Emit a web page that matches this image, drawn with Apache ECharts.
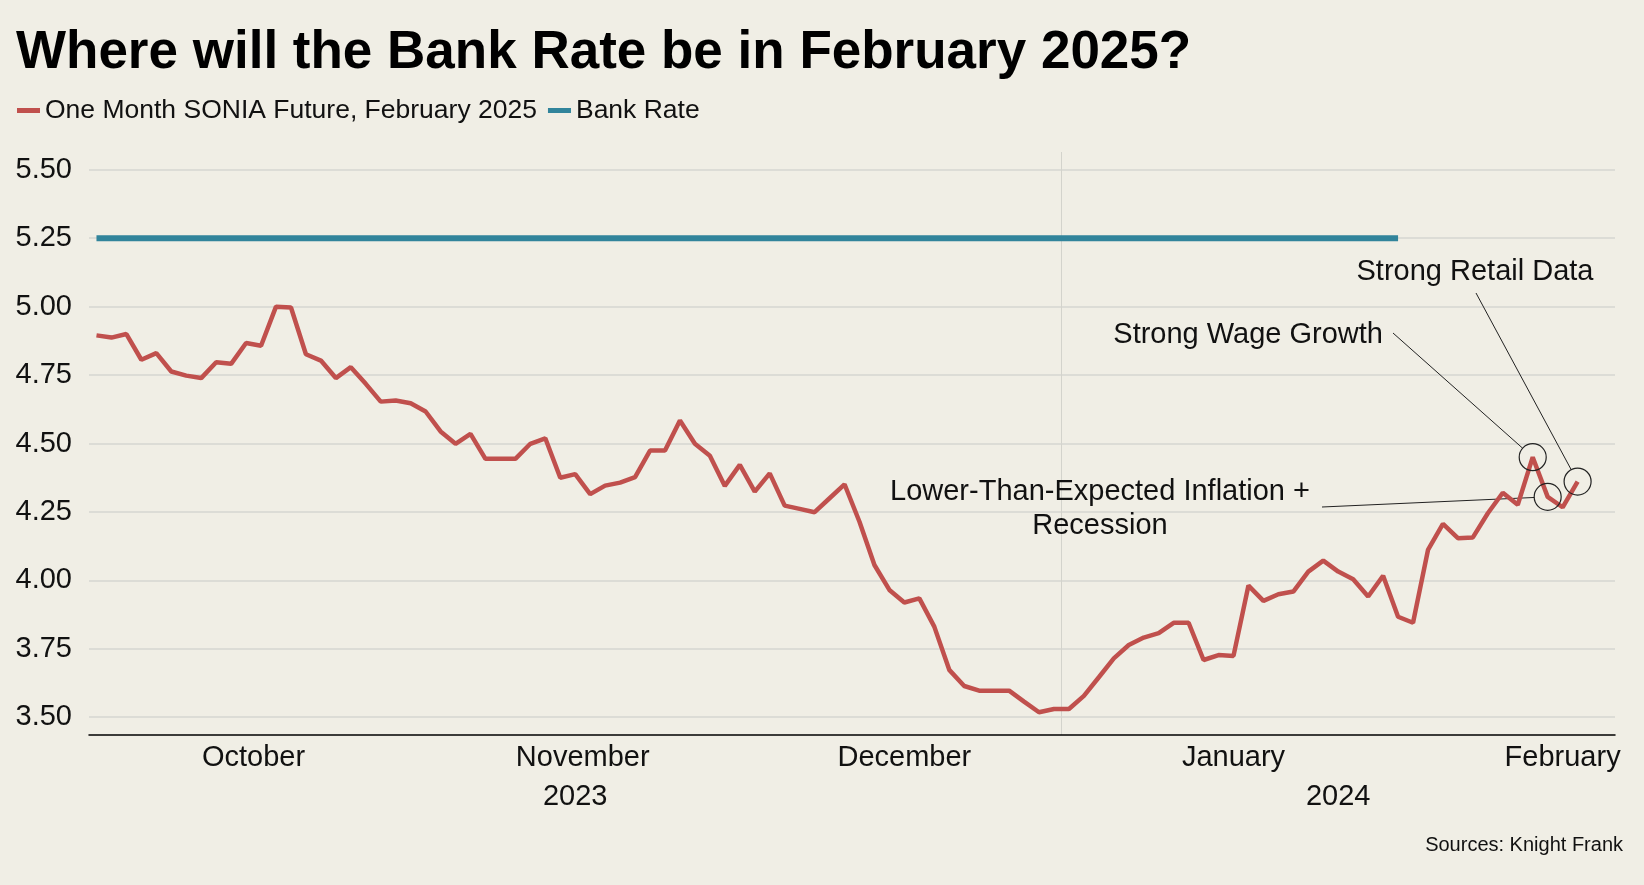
<!DOCTYPE html>
<html>
<head>
<meta charset="utf-8">
<script src="https://cdn.jsdelivr.net/npm/echarts@6/dist/echarts.min.js"></script>
<style>
html,body{margin:0;padding:0;background:#f0eee5;}
#chart{width:1644px;height:885px;}
</style>
</head>
<body>
<div id="chart"></div>
<script>
// ---- data ----
const firstDay = '2023-10-02';
const lastDay = '2024-02-20';
const monthNames = ['October', 'November', 'December', 'January', 'February'];
const monthKeys = ['2023-10', '2023-11', '2023-12', '2024-01', '2024-02'];
const yearLabels = ['2023', '2024'];
const yTicks = [3.5, 3.75, 4.0, 4.25, 4.5, 4.75, 5.0, 5.25, 5.5];

// One Month SONIA Future, February 2025 (business days from 2 Oct 2023)
const sonia = [
  4.895, 4.887, 4.900, 4.806, 4.830, 4.763, 4.748, 4.739, 4.797, 4.791, 4.867,
  4.857, 5.000, 4.997, 4.826, 4.803, 4.739, 4.779, 4.718, 4.653, 4.657, 4.647,
  4.617, 4.544, 4.499, 4.535, 4.444, 4.444, 4.444, 4.499, 4.519, 4.375, 4.388,
  4.315, 4.346, 4.357, 4.377, 4.474, 4.474, 4.584, 4.499, 4.455, 4.345, 4.422,
  4.324, 4.391, 4.273, 4.261, 4.249, 4.300, 4.351, 4.214, 4.056, 3.965, 3.919,
  3.934, 3.831, 3.673, 3.614, 3.597, 3.597, 3.597, 3.557, 3.518, 3.530, 3.530,
  3.578, 3.646, 3.715, 3.764, 3.791, 3.807, 3.845, 3.845, 3.709, 3.727, 3.724,
  3.981, 3.925, 3.949, 3.959, 4.032, 4.072, 4.032, 4.004, 3.941, 4.017, 3.867,
  3.845, 4.111, 4.206, 4.154, 4.157, 4.245, 4.320, 4.276, 4.450, 4.305, 4.267,
  4.361
];
// Bank Rate (business days from 2 Oct 2023 to 31 Jan 2024)
const bankRate = [
  5.25, 5.25, 5.25, 5.25, 5.25, 5.25, 5.25, 5.25, 5.25, 5.25, 5.25,
  5.25, 5.25, 5.25, 5.25, 5.25, 5.25, 5.25, 5.25, 5.25, 5.25, 5.25,
  5.25, 5.25, 5.25, 5.25, 5.25, 5.25, 5.25, 5.25, 5.25, 5.25, 5.25,
  5.25, 5.25, 5.25, 5.25, 5.25, 5.25, 5.25, 5.25, 5.25, 5.25, 5.25,
  5.25, 5.25, 5.25, 5.25, 5.25, 5.25, 5.25, 5.25, 5.25, 5.25, 5.25,
  5.25, 5.25, 5.25, 5.25, 5.25, 5.25, 5.25, 5.25, 5.25, 5.25, 5.25,
  5.25, 5.25, 5.25, 5.25, 5.25, 5.25, 5.25, 5.25, 5.25, 5.25, 5.25,
  5.25, 5.25, 5.25, 5.25, 5.25, 5.25, 5.25, 5.25, 5.25, 5.25, 5.25
];
const annotations = [
  { date: '2024-02-13', text: 'Strong Wage Growth', align: 'right', tx: 1383, ty: 335, lx: 1393, ly: 333 },
  { date: '2024-02-14', text: 'Lower-Than-Expected Inflation +\nRecession', align: 'center', tx: 1100, ty: 509, lx: 1322, ly: 507 },
  { date: '2024-02-16', text: 'Strong Retail Data', align: 'center', tx: 1475, ty: 272, lx: 1476, ly: 293 }
];

// ---- helpers ----
function weekdays(from, to) {
  const out = [];
  const d = new Date(from + 'T00:00:00Z');
  const e = new Date(to + 'T00:00:00Z');
  while (d <= e) {
    const w = d.getUTCDay();
    if (w !== 0 && w !== 6) out.push(d.toISOString().slice(0, 10));
    d.setUTCDate(d.getUTCDate() + 1);
  }
  return out;
}
const dates = weekdays(firstDay, lastDay);
const N = dates.length;

// month label positions: centre of each full month (business days)
const monthPos = monthKeys.map(k => {
  const [y, m] = k.split('-').map(Number);
  const endDay = new Date(Date.UTC(y, m, 0)).getUTCDate();
  const all = weekdays(k + '-01', k + '-' + String(endDay).padStart(2, '0'));
  const start = dates.findIndex(d => d.startsWith(k));
  return start + all.length / 2;
});
const yearPos = yearLabels.map(y => {
  const idx = dates.map((d, i) => d.startsWith(y) ? i : -1).filter(i => i >= 0);
  return (idx[0] + idx[idx.length - 1] + 1) / 2;
});
// boundary between the years (start of first 2024 business day band)
const yearBoundary = [dates.findIndex(d => d.startsWith(yearLabels[1]))];

const FONT = '"Liberation Sans", Arial, sans-serif';
const TXT = '#111111';

const chart = echarts.init(document.getElementById('chart'));
const option = {
  animation: false,
  backgroundColor: '#f0eee5',
  textStyle: { fontFamily: FONT },
  title: [
    { text: 'Where will the Bank Rate be in February 2025?', left: 16, top: 27, padding: 0,
      textStyle: { fontSize: 53, fontWeight: 'bold', color: '#000', fontFamily: FONT } },
    { text: 'Sources: Knight Frank', right: 21, top: 835, padding: 0,
      textStyle: { fontSize: 20, fontWeight: 'normal', color: TXT, fontFamily: FONT } }
  ],
  legend: {
    left: 17, top: 97, padding: 0, itemGap: 11, itemWidth: 23, itemHeight: 5, icon: 'rect',
    textStyle: { fontSize: 26.5, color: TXT, fontFamily: FONT },
    data: ['One Month SONIA Future, February 2025', 'Bank Rate']
  },
  grid: { left: 89, right: 29, top: 152, bottom: 150 },
  xAxis: [
    {
      type: 'category', data: dates, boundaryGap: true,
      axisLine: { show: true, lineStyle: { color: '#000', width: 1.5 } },
      axisTick: { show: false }, axisLabel: { show: false }, splitLine: { show: false }
    },
    {
      type: 'value', min: 0, max: N, position: 'bottom',
      axisLine: { show: false }, axisTick: { show: false }, splitLine: { show: false },
      axisLabel: { customValues: monthPos, margin: 8, fontSize: 29, color: TXT, fontFamily: FONT,
        formatter: v => monthNames[monthPos.indexOf(v)] }
    },
    {
      type: 'value', min: 0, max: N, position: 'bottom',
      axisLine: { show: false }, axisTick: { show: false }, splitLine: { show: false },
      axisLabel: { customValues: yearPos, margin: 47, fontSize: 29, color: TXT, fontFamily: FONT,
        formatter: v => yearLabels[yearPos.indexOf(v)] }
    },
    {
      type: 'value', min: 0, max: N, position: 'bottom',
      axisLine: { show: false }, axisLabel: { show: false },
      axisTick: { show: false, customValues: yearBoundary },
      splitLine: { show: true, lineStyle: { color: '#d3d3cc', width: 1 } }
    }
  ],
  yAxis: {
    type: 'value', min: 3.435, max: 5.565,
    axisLine: { show: false },
    axisTick: { show: false, customValues: yTicks },
    axisLabel: { customValues: yTicks, margin: 17, fontSize: 29, color: TXT, fontFamily: FONT,
      formatter: v => v.toFixed(2) },
    splitLine: { show: true, lineStyle: { color: '#d6d6d0', width: 1.5 } }
  },
  series: [
    {
      name: 'One Month SONIA Future, February 2025', type: 'line', data: sonia,
      symbol: 'none', z: 3,
      itemStyle: { color: '#c0504d' },
      lineStyle: { color: '#c0504d', width: 4.5 },
      markPoint: {
        symbol: 'circle', symbolSize: 27, silent: true,
        itemStyle: { color: 'rgba(0,0,0,0)', borderColor: '#222', borderWidth: 1.2 },
        label: { show: false },
        data: annotations.map(a => {
          const i = dates.indexOf(a.date);
          return { coord: [dates[i], sonia[i]] };
        })
      }
    },
    {
      name: 'Bank Rate', type: 'line', data: bankRate,
      symbol: 'none', z: 2,
      itemStyle: { color: '#31849b' },
      lineStyle: { color: '#31849b', width: 6 }
    }
  ]
};
chart.setOption(option);

// annotation texts and leader lines ending at circle edges
const R = 13.5;
const graphics = [];
annotations.forEach(a => {
  const i = dates.indexOf(a.date);
  const p = chart.convertToPixel({ xAxisIndex: 0, yAxisIndex: 0 }, [i, sonia[i]]);
  const dx = a.lx - p[0], dy = a.ly - p[1];
  const len = Math.sqrt(dx * dx + dy * dy);
  graphics.push({
    type: 'line', silent: true,
    shape: { x1: a.lx, y1: a.ly, x2: p[0] + dx / len * R, y2: p[1] + dy / len * R },
    style: { stroke: '#222', lineWidth: 1 }
  });
  graphics.push({
    type: 'text', silent: true, x: a.tx, y: a.ty,
    style: { text: a.text, fontSize: 29, fontFamily: FONT, fill: TXT,
      align: a.align, verticalAlign: 'middle', lineHeight: 33.5 }
  });
});
chart.setOption({ graphic: graphics });
</script>
</body>
</html>
